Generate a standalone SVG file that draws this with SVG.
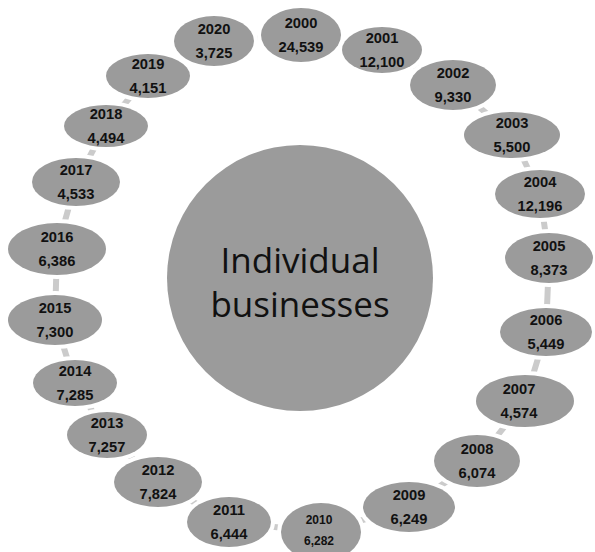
<svg xmlns="http://www.w3.org/2000/svg" width="595" height="552" viewBox="0 0 595 552">
  <style>
    .bg { fill: #ffffff; }
    .link { stroke: #cbcbcb; stroke-width: 6; fill: none; }
    .hub { fill: #9b9b9b; }
    .year { fill: #9b9b9b; stroke: #ffffff; stroke-width: 8; paint-order: stroke; }
    .t { font-family: "Liberation Sans", Arial, sans-serif; font-weight: bold; font-size: 14.7px; fill: #111111; text-anchor: middle; }
    .t.small { font-size: 12px; }
    .hubtxt { font-family: "Open Sans", "Liberation Sans", sans-serif; font-size: 35px; fill: #111111; text-anchor: middle; }
  </style>
  <rect class="bg" x="0" y="0" width="595" height="552"/>

  <!-- ring of connectors joining consecutive years -->
  <g id="connectors">
    <polyline class="link" points="301,35 382,50 453,85 512,135 540,194 549,258 546,332 525,401 477,461 409,507 320,532 229,522 158,482 107,435 75,383 55,320 57,249 76,182 106,126 148,76 214,41 301,35"/>
  </g>

  <!-- central hub -->
  <g id="hub">
    <circle class="hub" cx="300" cy="278" r="133"/>
    <text class="hubtxt" x="300" y="273">Individual</text>
    <text class="hubtxt" x="300" y="317">businesses</text>
  </g>

  <g id="y2000"><ellipse class="year" cx="301" cy="35" rx="40" ry="27"/><text class="t" x="301" y="28">2000</text><text class="t" x="301" y="52">24,539</text></g>
  <g id="y2001"><ellipse class="year" cx="382" cy="50" rx="40" ry="23"/><text class="t" x="382" y="43">2001</text><text class="t" x="382" y="67">12,100</text></g>
  <g id="y2002"><ellipse class="year" cx="453" cy="85" rx="43" ry="25"/><text class="t" x="453" y="78">2002</text><text class="t" x="453" y="102">9,330</text></g>
  <g id="y2003"><ellipse class="year" cx="512" cy="135" rx="48" ry="23"/><text class="t" x="512" y="128">2003</text><text class="t" x="512" y="152">5,500</text></g>
  <g id="y2004"><ellipse class="year" cx="540" cy="194" rx="45" ry="24"/><text class="t" x="540" y="187">2004</text><text class="t" x="540" y="211">12,196</text></g>
  <g id="y2005"><ellipse class="year" cx="549" cy="258" rx="44" ry="25"/><text class="t" x="549" y="251">2005</text><text class="t" x="549" y="275">8,373</text></g>
  <g id="y2006"><ellipse class="year" cx="546" cy="332" rx="46" ry="24"/><text class="t" x="546" y="325">2006</text><text class="t" x="546" y="349">5,449</text></g>
  <g id="y2007"><ellipse class="year" cx="525" cy="401" rx="49" ry="26"/><text class="t" x="519" y="394">2007</text><text class="t" x="519" y="418">4,574</text></g>
  <g id="y2008"><ellipse class="year" cx="477" cy="461" rx="43" ry="26"/><text class="t" x="477" y="454">2008</text><text class="t" x="477" y="478">6,074</text></g>
  <g id="y2009"><ellipse class="year" cx="409" cy="507" rx="46" ry="25"/><text class="t" x="409" y="500">2009</text><text class="t" x="409" y="524">6,249</text></g>
  <g id="y2010"><ellipse class="year" cx="321" cy="532" rx="40" ry="29"/><text class="t small" x="319" y="524">2010</text><text class="t small" x="319" y="545">6,282</text></g>
  <g id="y2011"><ellipse class="year" cx="229" cy="522" rx="42" ry="25"/><text class="t" x="229" y="515">2011</text><text class="t" x="229" y="539">6,444</text></g>
  <g id="y2012"><ellipse class="year" cx="158" cy="482" rx="44" ry="25"/><text class="t" x="158" y="475">2012</text><text class="t" x="158" y="499">7,824</text></g>
  <g id="y2013"><ellipse class="year" cx="107" cy="435" rx="40" ry="23"/><text class="t" x="107" y="428">2013</text><text class="t" x="107" y="452">7,257</text></g>
  <g id="y2014"><ellipse class="year" cx="75" cy="383" rx="42" ry="23"/><text class="t" x="75" y="376">2014</text><text class="t" x="75" y="400">7,285</text></g>
  <g id="y2015"><ellipse class="year" cx="55" cy="320" rx="47" ry="25"/><text class="t" x="55" y="313">2015</text><text class="t" x="55" y="337">7,300</text></g>
  <g id="y2016"><ellipse class="year" cx="57" cy="249" rx="49" ry="26"/><text class="t" x="57" y="242">2016</text><text class="t" x="57" y="266">6,386</text></g>
  <g id="y2017"><ellipse class="year" cx="76" cy="182" rx="44" ry="24"/><text class="t" x="76" y="175">2017</text><text class="t" x="76" y="199">4,533</text></g>
  <g id="y2018"><ellipse class="year" cx="106" cy="126" rx="42" ry="21"/><text class="t" x="106" y="119">2018</text><text class="t" x="106" y="143">4,494</text></g>
  <g id="y2019"><ellipse class="year" cx="148" cy="76" rx="42" ry="22"/><text class="t" x="148" y="69">2019</text><text class="t" x="148" y="93">4,151</text></g>
  <g id="y2020"><ellipse class="year" cx="214" cy="41" rx="40" ry="25"/><text class="t" x="214" y="34">2020</text><text class="t" x="214" y="58">3,725</text></g>
</svg>
